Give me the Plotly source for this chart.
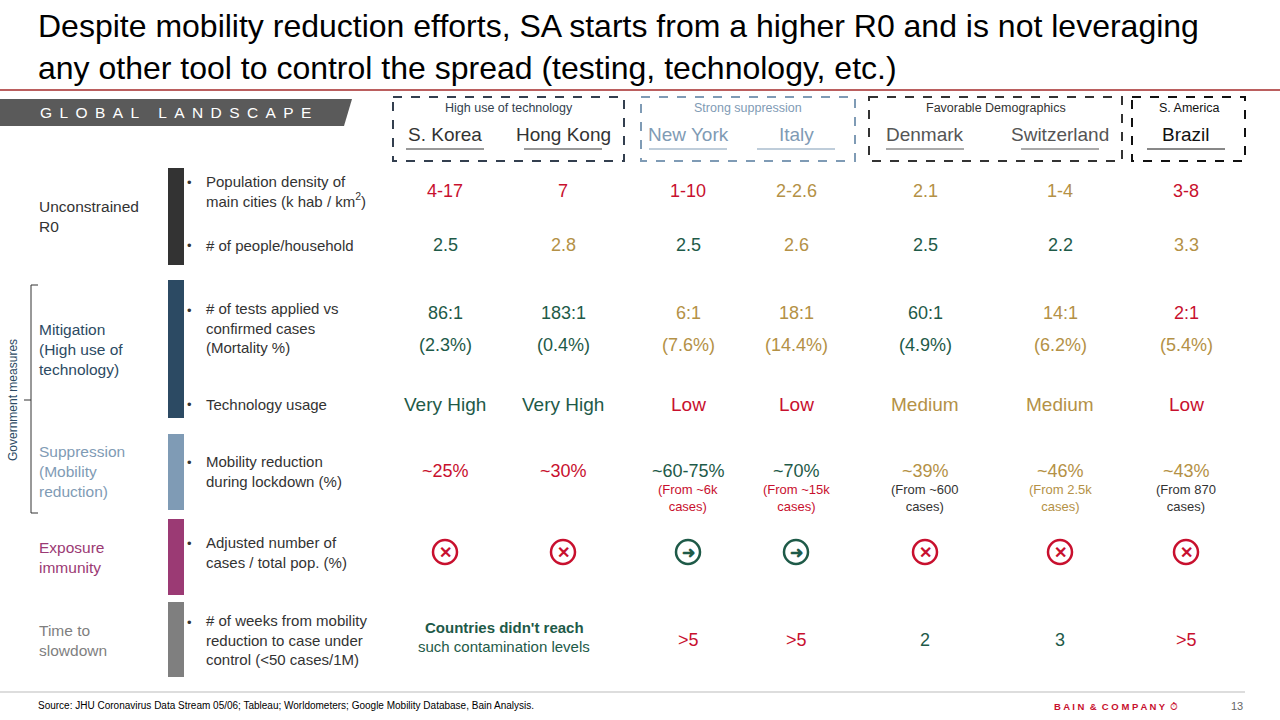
import plotly.graph_objects as go

FONT = "Liberation Sans, Arial"
RED, GREEN, GOLD, DARK = "#c8102e", "#1e5a48", "#b49146", "#333333"
C = {"r": RED, "g": GREEN, "y": GOLD, "d": DARK}

countries = ["S. Korea", "Hong Kong", "New York", "Italy", "Denmark", "Switzerland", "Brazil"]
country_colors = ["#333333", "#333333", "#7f9bb5", "#7f9bb5", "#555555", "#555555", "#111111"]
col_x = [445, 563, 688, 796, 925, 1060, 1186]

density = ["4-17", "7", "1-10", "2-2.6", "2.1", "1-4", "3-8"]
density_c = ["r", "r", "r", "y", "y", "y", "r"]
household = ["2.5", "2.8", "2.5", "2.6", "2.5", "2.2", "3.3"]
household_c = ["g", "y", "g", "y", "g", "g", "y"]
tests = ["86:1", "183:1", "6:1", "18:1", "60:1", "14:1", "2:1"]
tests_c = ["g", "g", "y", "y", "g", "y", "r"]
mortality = ["(2.3%)", "(0.4%)", "(7.6%)", "(14.4%)", "(4.9%)", "(6.2%)", "(5.4%)"]
mortality_c = ["g", "g", "y", "y", "g", "y", "y"]
tech = ["Very High", "Very High", "Low", "Low", "Medium", "Medium", "Low"]
tech_c = ["g", "g", "r", "r", "y", "y", "r"]
mobility = ["~25%", "~30%", "~60-75%", "~70%", "~39%", "~46%", "~43%"]
mobility_c = ["r", "r", "g", "g", "y", "y", "y"]
mob_sub = ["", "", "(From ~6k<br>cases)", "(From ~15k<br>cases)", "(From ~600<br>cases)", "(From 2.5k<br>cases)", "(From 870<br>cases)"]
mob_sub_c = ["d", "d", "r", "r", "d", "y", "d"]
exposure = ["x", "x", "arrow", "arrow", "x", "x", "x"]
weeks = [None, None, ">5", ">5", "2", "3", ">5"]
weeks_c = ["r", "r", "r", "r", "g", "g", "r"]

groups = ["High use of technology", "Strong suppression", "Favorable Demographics", "S. America"]
group_box = [(393, 624, "#333f4f"), (641, 855, "#7f9bb5"), (869, 1122, "#333333"), (1132, 1245, "#111111")]

sections = ["Unconstrained<br>R0", "Mitigation<br>(High use of<br>technology)", "Suppression<br>(Mobility<br>reduction)", "Exposure<br>immunity", "Time to<br>slowdown"]
section_colors = ["#333333", "#2c4a63", "#7f9bb5", "#9b3a74", "#7f7f7f"]
section_span = [(168, 265), (280, 418), (434, 510), (519, 595), (602, 677)]
section_y = [216, 349, 471, 557, 640]
metrics = ["Population density of<br>main cities (k hab / km<sup>2</sup>)", "# of people/household",
           "# of tests applied vs<br>confirmed cases<br>(Mortality %)", "Technology usage",
           "Mobility reduction<br>during lockdown (%)", "Adjusted number of<br>cases / total pop. (%)",
           "# of weeks from mobility<br>reduction to case under<br>control (<50 cases/1M)"]
metric_y = [191, 245, 328, 404, 471, 552, 640]

fig = go.Figure()
shapes, ann = [], []

def T(x, y, t, size=14, color=DARK, anchor="center", **kw):
    ann.append(dict(x=x, y=y, text=t, showarrow=False, xanchor=anchor, yanchor="middle",
                    font=dict(family=FONT, size=size, color=color), **kw))

# title
T(36, 47, "Despite mobility reduction efforts, SA starts from a higher R0 and is not leveraging<br>any other tool to control the spread (testing, technology, etc.)",
  size=32, color="#000000", anchor="left", align="left")
shapes.append(dict(type="line", x0=0, x1=1280, y0=90, y1=90, line=dict(color="#a52a2a", width=1.5)))
shapes.append(dict(type="path", path="M0,99 L352,99 L344,126 L0,126 Z", fillcolor="#5a5a5a", line=dict(width=0)))
banner = "GLOBAL LANDSCAPE"
T(38, 112, "&nbsp;&#8201;".join("&nbsp;" if ch == " " else ch for ch in banner), size=15.5, color="white", anchor="left")

# group boxes & headers
for (x0, x1, col), g in zip(group_box, groups):
    shapes.append(dict(type="rect", x0=x0, x1=x1, y0=97, y1=161, line=dict(color=col, width=2, dash="dash")))
    T((x0 + x1) / 2, 108, g, size=12.5, color=col)
for x, name, col in zip(col_x, countries, country_colors):
    T(x, 134, name, size=19, color=col)
    shapes.append(dict(type="line", x0=x - 39, x1=x + 39, y0=149, y1=149, line=dict(color=col, width=1)))

# sections
for lab, col, (y0, y1), ly in zip(sections, section_colors, section_span, section_y):
    shapes.append(dict(type="rect", x0=168, x1=184, y0=y0, y1=y1, fillcolor=col, line=dict(width=0)))
    T(37, ly, lab, size=15.5, color=col, anchor="left", align="left")
for m, y in zip(metrics, metric_y):
    n = m.count("<br>")
    T(189, y - n * 9, "•", size=13)
    T(204, y, m, size=15, anchor="left", align="left")

# government measures bracket
shapes.append(dict(type="path", path="M38,285 L31,285 L31,513 L38,513", line=dict(color="#333", width=1)))
shapes.append(dict(type="line", x0=24, x1=31, y0=400, y1=400, line=dict(color="#333", width=1)))
T(13, 400, "Government measures", size=12, color="#2c4a63", textangle=-90)

# values
for i, x in enumerate(col_x):
    T(x, 191, density[i], 18, C[density_c[i]])
    T(x, 245, household[i], 18, C[household_c[i]])
    T(x, 313, tests[i], 18, C[tests_c[i]])
    T(x, 345, mortality[i], 18, C[mortality_c[i]])
    T(x, 404, tech[i], 19, C[tech_c[i]])
    T(x, 471, mobility[i], 18, C[mobility_c[i]])
    if mob_sub[i]:
        T(x, 498, mob_sub[i], 13, C[mob_sub_c[i]])
    col = RED if exposure[i] == "x" else GREEN
    shapes.append(dict(type="circle", x0=x - 12, x1=x + 12, y0=540, y1=564, line=dict(color=col, width=2.5)))
    T(x, 552, "<b>✕</b>" if exposure[i] == "x" else "<b>➜</b>", 16, col)
    if weeks[i]:
        T(x, 640, weeks[i], 18, C[weeks_c[i]])
T((col_x[0] + col_x[1]) / 2, 627, "<b>Countries didn't reach</b>", 15, GREEN)
T((col_x[0] + col_x[1]) / 2, 646, "such contamination levels", 15, GREEN)

# footer
shapes.append(dict(type="line", x0=0, x1=1245, y0=692, y1=692, line=dict(color="#bbbbbb", width=1)))
T(36, 705, "Source: JHU Coronavirus Data Stream 05/06; Tableau; Worldometers; Google Mobility Database, Bain Analysis.", 10, "#000", "left")
T(1180, 706, "<b>B A I N  &  C O M P A N Y</b>  ⏱", 9.5, RED, "right")
T(1237, 706, "13", 11, "#666")

fig.update_layout(width=1280, height=720, margin=dict(l=0, r=0, t=0, b=0),
                  paper_bgcolor="white", plot_bgcolor="white", shapes=shapes, annotations=ann,
                  xaxis=dict(range=[0, 1280], visible=False, fixedrange=True),
                  yaxis=dict(range=[720, 0], visible=False, fixedrange=True), showlegend=False)
fig.write_html("out.html", config={"displayModeBar": False},
               post_script="document.body.style.margin='0';document.body.style.overflow='hidden';")
